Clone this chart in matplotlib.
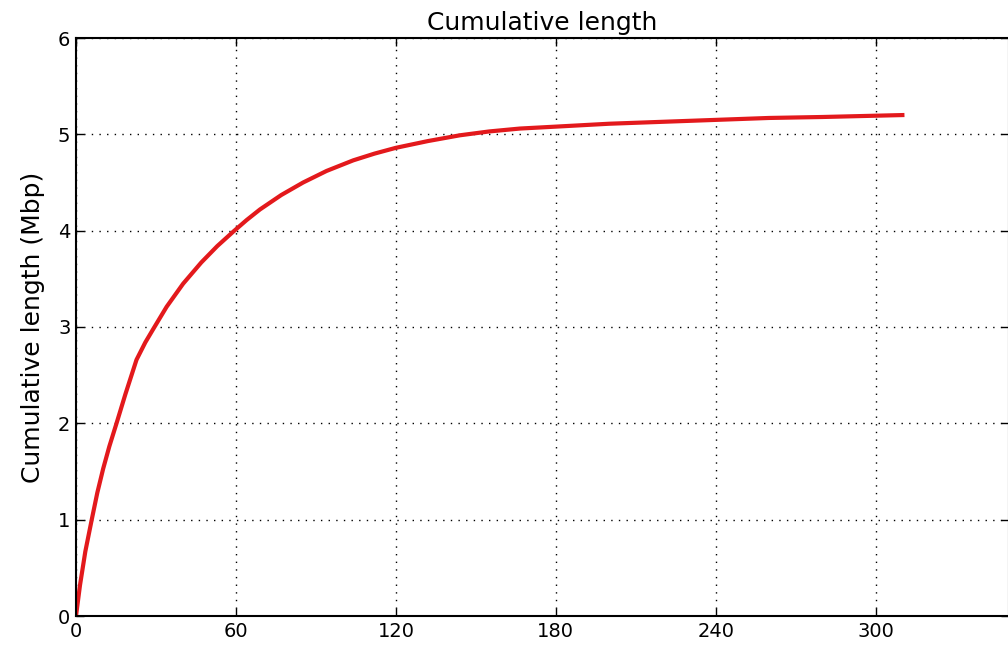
import matplotlib
matplotlib.use('Agg')
import matplotlib.pyplot as plt

# --- Datos ---
contigs = [0, 1.5, 3.5, 5.9, 8, 10.2, 12.5, 15.2, 18.5, 22.7, 26, 29, 34,
           40.2, 47, 53, 59, 64, 69, 77, 85.2, 94, 104, 112, 120, 132, 144,
           155, 166.5, 180, 200, 220, 240, 260, 280, 310]
longitud_mbp = [0, 0.32, 0.67, 1.0, 1.28, 1.53, 1.76, 2.0, 2.3, 2.66, 2.84,
                2.98, 3.21, 3.45, 3.67, 3.84, 3.99, 4.11, 4.22, 4.37, 4.5,
                4.62, 4.73, 4.80, 4.86, 4.93, 4.99, 5.03, 5.06, 5.08, 5.11,
                5.13, 5.15, 5.17, 5.18, 5.20]
xticks = [0, 60, 120, 180, 240, 300]
yticks = [0, 1, 2, 3, 4, 5, 6]

fig = plt.figure(figsize=(10.08, 6.45), dpi=100)
ax = fig.add_axes([76 / 1008, 1 - 616 / 645, 933 / 1008, 578 / 645])

ax.plot(contigs, longitud_mbp, color="#e3191c", linewidth=3)
ax.set_xlim(0, 350)
ax.set_ylim(0, 6)
ax.set_xticks(xticks)
ax.set_yticks(yticks)
ax.tick_params(direction='in', length=6, width=1, labelsize=14, top=True, right=True, pad=4)
ax.grid(True, linestyle=(0, (1, 4.5)), color='black', linewidth=1)
for s in ax.spines.values():
    s.set_linewidth(1.5)

ax.set_title("Cumulative length", fontsize=18, pad=6)
ax.set_ylabel("Cumulative length (Mbp)", fontsize=18, labelpad=9)

plt.savefig("out.png", dpi=100)
plt.close()
